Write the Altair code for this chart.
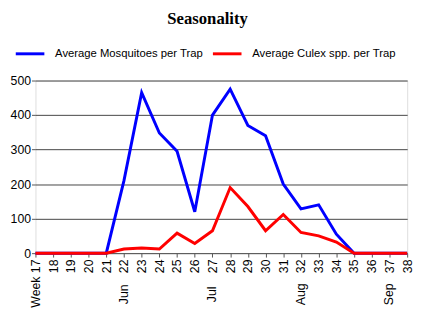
import altair as alt
import pandas as pd

weeks = list(range(17, 39))
mosq = [0, 0, 0, 0, 0, 210, 465, 348, 295, 120, 400, 475, 370, 340, 200, 128, 140, 55, 0, 0, 0, 0]
culex = [0, 0, 0, 0, 0, 12, 15, 12, 58, 28, 65, 190, 135, 65, 112, 60, 50, 32, 0, 0, 0, 0]
series = ["Average Mosquitoes per Trap", "Average Culex spp. per Trap"]
month_weeks = [22, 27, 32, 37]
month_names = ["Jun", "Jul", "Aug", "Sep"]

rows = []
for i, w in enumerate(weeks):
    rows.append({"week": w, "value": mosq[i], "series": series[0], "ord": 0})
for i, w in enumerate(weeks):
    rows.append({"week": w, "value": culex[i], "series": series[1], "ord": 1})
df = pd.DataFrame(rows)
months = pd.DataFrame({"week": month_weeks, "name": month_names})

F = "Liberation Sans"
W, H = 379, 176
FS = 12.5

xscale = alt.Scale(domain=[17, 38], nice=False, zero=False)
xaxis = alt.Axis(values=weeks, labelAngle=270, labelExpr="datum.value == 17 ? 'Week 17' : datum.value",
                 title=None, grid=False, labelFont=F, labelFontSize=FS, labelColor="#000",
                 tickColor="#555", tickSize=4, domain=False, labelPadding=2, labelBaseline="middle",
                 labelAlign="right", labelOverlap=False, labelFlush=False, labelBound=False)

lines = alt.Chart(df).mark_line(strokeWidth=3).encode(
    x=alt.X("week:Q", scale=xscale, axis=xaxis),
    y=alt.Y("value:Q", scale=alt.Scale(domain=[0, 500]),
            axis=alt.Axis(values=[0, 100, 200, 300, 400, 500], title=None, gridColor="#444", gridWidth=1,
                          labelFont=F, labelFontSize=FS, labelColor="#000", tickColor="#555", tickSize=4,
                          domain=False, labelPadding=1)),
    color=alt.Color("series:N", scale=alt.Scale(domain=series, range=["#0000FF", "#FF0000"]),
                    legend=alt.Legend(title=None, orient="none", direction="horizontal", legendX=-22, legendY=-44,
                                      symbolType="stroke", symbolStrokeWidth=3, symbolSize=850,
                                      labelFont=F, labelFontSize=11.5, labelColor="#000", columnPadding=3,
                                      labelOffset=9, labelLimit=300)),
    order="ord:O",
    detail="series:N",
)

mtext = alt.Chart(months).mark_text(angle=270, align="center", baseline="middle", font=F, fontSize=FS,
                                    color="#000").encode(
    x=alt.X("week:Q", scale=xscale, axis=xaxis),
    y=alt.value(218),
    text="name:N",
)

chart = alt.layer(lines, mtext).properties(
    width=W, height=H,
    title=alt.Title("Seasonality", font="Liberation Serif", fontSize=17, fontWeight="bold", color="#000",
                    anchor="middle", dx=-14, offset=10),
    autosize=alt.AutoSizeParams(type="none"),
    padding={"left": 28, "top": 71, "right": 9, "bottom": 55},
).configure_view(fill="#d3d3d3", stroke="#666", strokeWidth=1).configure(background="white")

chart.save("out.html", embed_options={"renderer": "svg", "actions": False})
